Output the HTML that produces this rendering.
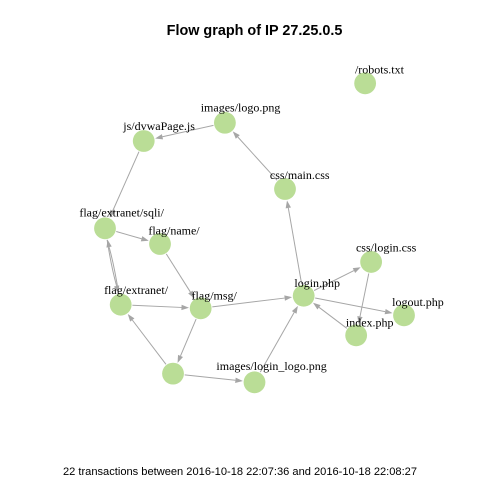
<!DOCTYPE html>
<html lang="en">
<head>
<meta charset="utf-8">
<title>Flow graph of IP 27.25.0.5</title>
<style>
html,body{margin:0;padding:0;background:#fff;width:480px;height:480px;overflow:hidden}
svg{display:block}
.lbl{font-family:"Liberation Serif",serif;font-size:12px;fill:#000;text-anchor:middle}
</style>
</head>
<body>
<svg id="chart" xmlns="http://www.w3.org/2000/svg" width="480" height="480" viewBox="0 0 480 480">
  <text x="254.5" y="35" text-anchor="middle" font-family="'Liberation Sans',sans-serif" font-weight="bold" font-size="14.4" fill="#000">Flow graph of IP 27.25.0.5</text>
  <g id="edges"></g>
  <g id="nodes"></g>
  <g id="labels"></g>
  <text x="240" y="475" text-anchor="middle" font-family="'Liberation Sans',sans-serif" font-size="11.1" fill="#000">22 transactions between 2016-10-18 22:07:36 and 2016-10-18 22:08:27</text>
</svg>
<script>
const nodeNames = ["images/logo.png","js/dvwaPage.js","flag/extranet/sqli/","flag/name/","flag/extranet/","flag/msg/","","images/login_logo.png","login.php","css/login.css","logout.php","index.php","/robots.txt","css/main.css"];
const nodeX = [-0.198,-0.741,-1,-0.632,-0.895,-0.36,-0.545,0,0.329,0.78,1,0.68,0.74,0.204];
const nodeY = [0.736,0.614,0.03,-0.075,-0.481,-0.505,-0.942,-1,-0.421,-0.195,-0.552,-0.686,1,0.293];
const edgeFrom = [13,0,1,2,3,4,2,4,5,6,6,7,5,8,8,9,11,8];
const edgeTo   = [0,1,2,3,5,2,4,5,6,4,7,8,8,13,9,11,8,10];

const NS = "http://www.w3.org/2000/svg";
function xScale(v){ return 254.5 + v * 149.5; }
function yScale(v){ return 232.8 - v * 149.5; }
const nodeRadius = 10.9;
const edgeGap = 11.7;
const edgeColor = "#a6a6a6";
const edgesG = document.getElementById("edges");
const nodesG = document.getElementById("nodes");
const labelsG = document.getElementById("labels");

function hasReverse(a, b){
  return edgeFrom.some(function(f, k){ return f === b && edgeTo[k] === a; });
}

edgeFrom.forEach(function(a, i){
  const b = edgeTo[i];
  const x1 = xScale(nodeX[a]), y1 = yScale(nodeY[a]);
  const x2 = xScale(nodeX[b]), y2 = yScale(nodeY[b]);
  const len = Math.hypot(x2 - x1, y2 - y1);
  const ux = (x2 - x1) / len, uy = (y2 - y1) / len;
  const bend = hasReverse(a, b) ? 0.8 : 0;
  const nx = -uy * bend, ny = ux * bend;
  const sx = x1 + ux * edgeGap + nx * 0.3, sy = y1 + uy * edgeGap + ny * 0.3;
  const tx = x2 - ux * edgeGap + nx * 0.3, ty = y2 - uy * edgeGap + ny * 0.3;
  const bx = tx - ux * 7.5, by = ty - uy * 7.5;
  const mx = (x1 + x2) / 2 + nx * 2, my = (y1 + y2) / 2 + ny * 2;
  const line = document.createElementNS(NS, "path");
  line.setAttribute("d", "M" + sx + " " + sy + "Q" + mx + " " + my + " " + bx + " " + by);
  line.setAttribute("fill", "none");
  line.setAttribute("stroke", edgeColor);
  line.setAttribute("stroke-width", "1");
  
  
  edgesG.appendChild(line);
  const head = document.createElementNS(NS, "polygon");
  const hw = 2.7;
  head.setAttribute("points", tx + "," + ty + " " + (bx - uy * hw) + "," + (by + ux * hw) + " " + (bx + uy * hw) + "," + (by - ux * hw));
  head.setAttribute("fill", edgeColor);
  
  
  edgesG.appendChild(head);
});

nodeNames.forEach(function(name, i){
  const cx = xScale(nodeX[i]), cy = yScale(nodeY[i]);
  const c = document.createElementNS(NS, "circle");
  c.setAttribute("cx", cx);
  c.setAttribute("cy", cy);
  c.setAttribute("r", nodeRadius);
  c.setAttribute("fill", "#badd96");
  
  
  nodesG.appendChild(c);
  if (!name) return;
  const off = 0.215 * (15 + 48 * Math.log10(name.length + 1));
  const t = document.createElementNS(NS, "text");
  t.setAttribute("x", cx + off);
  t.setAttribute("y", cy - off + 4.6);
  t.setAttribute("class", "lbl");
  t.textContent = name;
  
  
  labelsG.appendChild(t);
});
</script>
</body>
</html>
